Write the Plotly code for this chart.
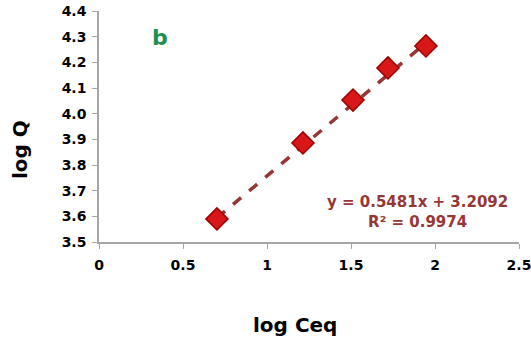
import plotly.graph_objects as go

log_ceq = [0.702, 1.214, 1.512, 1.720, 1.946]
log_q = [3.590, 3.886, 4.053, 4.178, 4.264]
slope = 0.5481
intercept = 3.2092
x_ticks = [0, 0.5, 1, 1.5, 2, 2.5]
x_tick_text = ["0", "0.5", "1", "1.5", "2", "2.5"]
y_ticks = [3.5, 3.6, 3.7, 3.8, 3.9, 4.0, 4.1, 4.2, 4.3, 4.4]
y_tick_text = ["3.5", "3.6", "3.7", "3.8", "3.9", "4.0", "4.1", "4.2", "4.3", "4.4"]

fit_x = [min(log_ceq), max(log_ceq)]
fit_y = [slope * v + intercept for v in fit_x]

fig = go.Figure()
fig.add_trace(go.Scatter(x=fit_x, y=fit_y, mode="lines",
                         line=dict(color="#953735", width=3.5, dash="dash"),
                         showlegend=False, hoverinfo="skip"))
fig.add_trace(go.Scatter(x=log_ceq, y=log_q, mode="markers",
                         marker=dict(symbol="diamond", size=17, color="#D81818",
                                     line=dict(color="#9E0000", width=1.5)),
                         showlegend=False))

font_family = "DejaVu Sans, Liberation Sans, Arial, sans-serif"
axis_common = dict(showgrid=False, zeroline=False, showline=True, linecolor="#A6A6A6",
                   linewidth=1.5, ticks="outside", tickcolor="#A6A6A6", ticklen=5,
                   automargin=False, ticklabeloverflow="allow",
                   tickfont=dict(family=font_family, size=14, color="black", weight="bold"))
fig.update_layout(
    width=531, height=344,
    margin=dict(l=99, r=12, t=11, b=102, autoexpand=False),
    paper_bgcolor="white", plot_bgcolor="white",
    font=dict(family=font_family, size=13, color="black"),
    xaxis=dict(range=[0, 2.5], tickvals=x_ticks, ticktext=x_tick_text,
               ticklabelstandoff=4, **axis_common),
    yaxis=dict(range=[3.5, 4.4], tickvals=y_ticks, ticktext=y_tick_text,
               ticklabelstandoff=3, **axis_common),
    annotations=[
        dict(text="<b>log Q</b>", x=-0.188, y=0.398, xref="paper", yref="paper",
             xanchor="center", yanchor="middle",
             showarrow=False, textangle=-90, font=dict(size=20, color="black")),
        dict(text="<b>log Ceq</b>", x=0.467, y=-0.359, xref="paper", yref="paper",
             xanchor="center", yanchor="middle",
             showarrow=False, font=dict(size=20, color="black")),
        dict(text="<b>b</b>", x=0.363, y=4.295, xref="x", yref="y",
             xanchor="center", yanchor="middle",
             showarrow=False, font=dict(size=22, color="#1B9150")),
        dict(text="<b>y = 0.5481x + 3.2092</b><br><b>R² = 0.9974</b>", x=1.893, y=3.617,
             xref="x", yref="y", showarrow=False, align="center",
             xanchor="center", yanchor="middle",
             font=dict(size=15, color="#953735")),
    ],
)

fig.write_html("out.html")
